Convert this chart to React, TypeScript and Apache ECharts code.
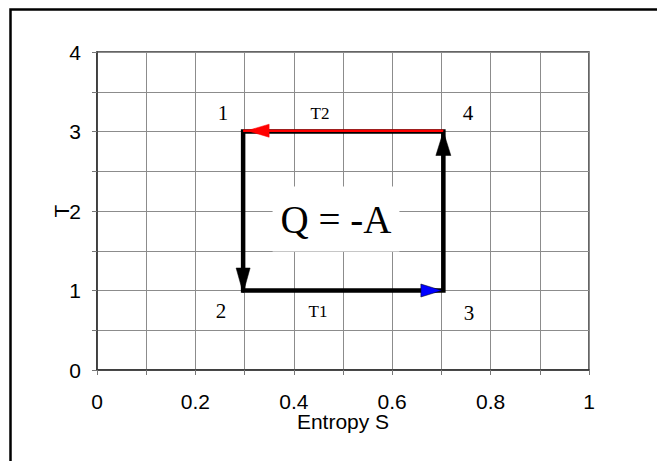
import React, { useEffect, useRef } from "react";
import * as echarts from "echarts";

// ---- data ----
const xTickLabels = ["0", "0.2", "0.4", "0.6", "0.8", "1"];
const yTickLabels = ["0", "1", "2", "3", "4"];

// Carnot cycle corners: 1 -> 2 -> 3 -> 4 -> 1 (entropy S, temperature T)
const cycleS = [0.297, 0.297, 0.704, 0.704, 0.297];
const cycleT = [3, 1, 1, 3, 3];

// red isotherm T2 (drawn over the top segment)
const redS = [0.704, 0.297];
const redT = [3.01, 3.01];

// arrow heads (tip positions)
const arrowS = [0.297, 0.704, 0.704, 0.297];
const arrowT = [1, 1, 3, 3.01];
const arrowDir = ["down", "right", "up", "left"];
const arrowColor = ["#000000", "#0000ff", "#000000", "#ff0000"];

const cornerLabels = ["1", "2", "3", "4"];
const isothermLabels = ["T2", "T1"];
const centerLabel = "Q = -A";

export default function App() {
  const ref = useRef<HTMLDivElement>(null);

  useEffect(() => {
    if (!ref.current) return;
    const chart = echarts.init(ref.current, undefined, { renderer: "svg" });

    const arrowGeom: Record<string, { rot: number; size: number[]; off: number[] }> = {
      down: { rot: 180, size: [14, 25], off: [0, -10] },
      right: { rot: -90, size: [13, 21], off: [-12, 0] },
      up: { rot: 0, size: [15, 24], off: [0, 12] },
      left: { rot: 90, size: [13, 22], off: [15, 0] },
    };

    const serif = "'Liberation Serif', 'Times New Roman', serif";
    const sans = "'Liberation Sans', Arial, sans-serif";

    chart.setOption({
      animation: false,
      backgroundColor: "#ffffff",
      grid: {
        left: 97,
        top: 52,
        width: 492,
        height: 318,
        show: true,
        borderColor: "#333333",
        borderWidth: 1.5,
        backgroundColor: "transparent",
      },
      xAxis: {
        type: "value",
        min: 0,
        max: 1,
        interval: 0.1,
        name: "Entropy S",
        nameLocation: "middle",
        nameGap: 41,
        nameMoveOverlap: false,
        nameTextStyle: { fontFamily: sans, fontSize: 21, color: "#000" },
        axisLine: { show: true, lineStyle: { color: "#333333", width: 1.5 } },
        axisTick: { show: true, inside: false, length: 5, lineStyle: { color: "#777777", width: 1 } },
        axisLabel: {
          margin: 21,
          fontFamily: sans,
          fontSize: 21,
          color: "#000",
          formatter: (v: number) => {
            const k = Math.round(v * 10);
            return k % 2 === 0 ? xTickLabels[k / 2] : "";
          },
        },
        splitLine: { show: true, lineStyle: { color: "#8c8c8c", width: 1 } },
      },
      yAxis: {
        type: "value",
        min: 0,
        max: 4,
        interval: 0.5,
        name: "T",
        nameLocation: "middle",
        nameGap: 25,
        nameMoveOverlap: false,
        nameTextStyle: { fontFamily: sans, fontSize: 21, color: "#000" },
        axisLine: { show: true, lineStyle: { color: "#333333", width: 1.5 } },
        axisTick: { show: true, inside: false, length: 5, lineStyle: { color: "#777777", width: 1 } },
        axisLabel: {
          margin: 16,
          fontFamily: sans,
          fontSize: 21,
          color: "#000",
          formatter: (v: number) => {
            const k = Math.round(v * 2);
            return k % 2 === 0 ? yTickLabels[k / 2] : "";
          },
        },
        splitLine: { show: true, lineStyle: { color: "#8c8c8c", width: 1 } },
      },
      graphic: [
        {
          type: "rect",
          silent: true,
          shape: { x: 10.5, y: 9.5, width: 800, height: 600 },
          style: { fill: "none", stroke: "#000", lineWidth: 2.5 },
          z: 100,
        },
        {
          type: "text",
          x: 336,
          y: 219,
          z: 10,
          style: {
            text: centerLabel,
            font: `39px ${serif}`,
            fill: "#000",
            align: "center",
            verticalAlign: "middle",
            backgroundColor: "#fff",
            padding: [13, 8, 13, 8],
          },
        },
        {
          type: "text",
          x: 223,
          y: 113,
          z: 10,
          style: { text: cornerLabels[0], font: `21px ${serif}`, fill: "#000", align: "center", verticalAlign: "middle" },
        },
        {
          type: "text",
          x: 221,
          y: 311,
          z: 10,
          style: { text: cornerLabels[1], font: `21px ${serif}`, fill: "#000", align: "center", verticalAlign: "middle" },
        },
        {
          type: "text",
          x: 469,
          y: 313,
          z: 10,
          style: { text: cornerLabels[2], font: `21px ${serif}`, fill: "#000", align: "center", verticalAlign: "middle" },
        },
        {
          type: "text",
          x: 468,
          y: 113,
          z: 10,
          style: {
            text: cornerLabels[3],
            font: `21px ${serif}`,
            fill: "#000",
            align: "center",
            verticalAlign: "middle",
            backgroundColor: "#fff",
            padding: [6, 8, 4, 8],
          },
        },
        {
          type: "text",
          x: 320,
          y: 113,
          z: 10,
          style: { text: isothermLabels[0], font: `17px ${serif}`, fill: "#000", align: "center", verticalAlign: "middle" },
        },
        {
          type: "text",
          x: 318,
          y: 311,
          z: 10,
          style: { text: isothermLabels[1], font: `17px ${serif}`, fill: "#000", align: "center", verticalAlign: "middle" },
        },
      ],
      series: [
        {
          type: "line",
          data: cycleS.map((s, i) => [s, cycleT[i]]),
          showSymbol: false,
          symbol: "none",
          lineStyle: { color: "#000", width: 4.5, cap: "square", join: "miter" },
          z: 3,
          silent: true,
        },
        {
          type: "line",
          data: redS.map((s, i) => [s, redT[i]]),
          showSymbol: false,
          symbol: "none",
          lineStyle: { color: "#ff0000", width: 2.5, cap: "butt" },
          z: 4,
          silent: true,
        },
        {
          type: "scatter",
          z: 5,
          silent: true,
          data: arrowS.map((s, i) => {
            const g = arrowGeom[arrowDir[i]];
            return {
              value: [s, arrowT[i]],
              symbol: "triangle",
              symbolRotate: g.rot,
              symbolSize: g.size,
              symbolOffset: g.off,
              itemStyle: {
                color: arrowColor[i],
                borderColor: arrowColor[i] === "#0000ff" ? "#000" : arrowColor[i],
                borderWidth: 0.5,
                opacity: 1,
              },
            };
          }),
        },
      ],
    });

    return () => chart.dispose();
  }, []);

  return (
    <div
      ref={ref}
      style={{ position: "fixed", left: 0, top: 0, width: 657, height: 461, background: "#fff" }}
    />
  );
}
